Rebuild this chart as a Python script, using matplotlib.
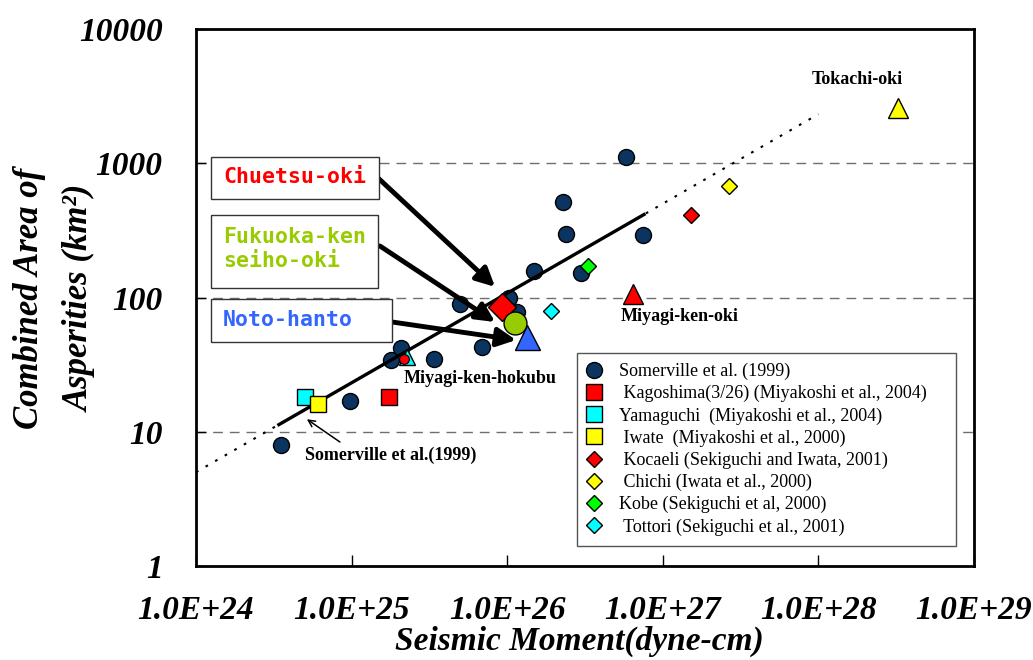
import matplotlib
matplotlib.use("Agg")
import matplotlib.pyplot as plt
from matplotlib.patches import Rectangle

plt.rcParams['font.family'] = ['Liberation Serif', 'DejaVu Serif']

# ---------- data (seismic moment dyne-cm, combined asperity area km2) ----------
somer_m0 = [3.5e24, 9.8e24, 1.8e25, 2.07e25, 3.4e25, 5.0e25, 6.9e25, 1.03e26,
            1.16e26, 1.49e26, 2.29e26, 2.39e26, 2.98e26, 5.8e26, 7.5e26]
somer_area = [8, 17, 34, 42, 35, 90, 43, 99, 78, 157, 514, 297, 152, 1110, 292]

kagoshima = ([1.74e25], [18])
yamaguchi = ([5.0e24], [18])
iwate = ([6.1e24], [16])
kocaeli = ([1.52e27], [410])
chichi = ([2.66e27], [680])
kobe = ([3.3e26], [172])
tottori = ([1.91e26], [79])

miyagi_hokubu = ([2.27e25], [36])
miyagi_hokubu_dot = ([2.17e25], [35])
miyagi_oki = ([6.4e26], [106])
tokachi_oki = ([3.25e28], [2600])

chuetsu = ([9.3e25], [85])
fukuoka = ([1.12e26], [65])
noto = ([1.34e26], [51])

# Somerville et al. (1999) scaling line, end points
fit_solid_m0 = [3.41e24, 7.57e26]
fit_solid_area = [11.3, 415]
fit_dot_m0 = [1.0e24, 1.0e28]
fit_dot_area = [5.0, 2320]

x_ticks = [1e24, 1e25, 1e26, 1e27, 1e28, 1e29]
x_ticklabels = ['1.0E+24', '1.0E+25', '1.0E+26', '1.0E+27', '1.0E+28', '1.0E+29']
y_ticks = [1, 10, 100, 1000, 10000]
y_ticklabels = ['1', '10', '100', '1000', '10000']

legend_labels = ['Somerville et al. (1999)',
                 ' Kagoshima(3/26) (Miyakoshi et al., 2004)',
                 'Yamaguchi  (Miyakoshi et al., 2004)',
                 ' Iwate  (Miyakoshi et al., 2000)',
                 ' Kocaeli (Sekiguchi and Iwata, 2001)',
                 ' Chichi (Iwata et al., 2000)',
                 'Kobe (Sekiguchi et al, 2000)',
                 ' Tottori (Sekiguchi et al., 2001)']

navy = '#0b3560'

fig = plt.figure(figsize=(10.33, 6.6), dpi=100)
ax = fig.add_axes([196 / 1033, 1 - 566 / 660, 778 / 1033, 537 / 660])
ax.set_xscale('log')
ax.set_yscale('log')
ax.set_xlim(1e24, 1e29)
ax.set_ylim(1, 10000)

# grid lines at 10, 100, 1000
for yv in y_ticks[1:-1]:
    ax.axhline(yv, color='#6f6f6f', lw=1, ls=(0, (7, 5)), zorder=0)

# fitted relation
ax.plot(fit_dot_m0, fit_dot_area, color='k', lw=1.5, ls=(0, (1.3, 4)), zorder=1)
ax.plot(fit_solid_m0, fit_solid_area, color='k', lw=2.4, zorder=3)

# data points
ax.plot(somer_m0, somer_area, 'o', ms=11.5, mfc=navy, mec='k', mew=1,
        label=legend_labels[0], zorder=2)
ax.plot(*kagoshima, 's', ms=11, mfc='#ff0000', mec='k', mew=1, label=legend_labels[1], zorder=4)
ax.plot(*yamaguchi, 's', ms=11, mfc='#00ffff', mec='k', mew=1, label=legend_labels[2], zorder=4)
ax.plot(*iwate, 's', ms=11, mfc='#ffff00', mec='k', mew=1, label=legend_labels[3], zorder=4)
ax.plot(*kocaeli, 'D', ms=7.8, mfc='#ff0000', mec='k', mew=1, label=legend_labels[4], zorder=4)
ax.plot(*chichi, 'D', ms=7.8, mfc='#ffff00', mec='k', mew=1, label=legend_labels[5], zorder=4)
ax.plot(*kobe, 'D', ms=7.8, mfc='#00ff00', mec='k', mew=1, label=legend_labels[6], zorder=4)
ax.plot(*tottori, 'D', ms=7.8, mfc='#00ffff', mec='k', mew=1, label=legend_labels[7], zorder=4)

ax.plot(*miyagi_hokubu, '^', ms=12, mfc='#00ffff', mec='k', mew=1, zorder=4)
ax.plot(*miyagi_hokubu_dot, 'o', ms=7, mfc='#ff0000', mec='k', mew=0.8, zorder=5)
ax.plot(*miyagi_oki, '^', ms=14, mfc='#ff0000', mec='k', mew=1, zorder=4)
ax.plot(*tokachi_oki, '^', ms=14, mfc='#ffff00', mec='k', mew=1, zorder=4)

ax.plot(*noto, '^', ms=18, mfc='#3366ff', mec='k', mew=1, zorder=6)
ax.plot(*fukuoka, 'o', ms=16.5, mfc='#99cc00', mec='k', mew=1, zorder=7)
ax.plot(*chuetsu, 'D', ms=14.5, mfc='#ff0000', mec='k', mew=1, zorder=6)

# event labels
lab_kw = dict(fontsize=13, fontweight='bold', ha='center', va='center', zorder=8)
ax.text(1.77e28, 4170, 'Tokachi-oki', **lab_kw)
ax.text(1.29e27, 72.8, 'Miyagi-ken-oki', **lab_kw)
ax.text(6.68e25, 25.1, 'Miyagi-ken-hokubu', **lab_kw)
ax.text(1.79e25, 6.71, 'Somerville et al.(1999)', **lab_kw)
ax.annotate('', xy=(5.16e24, 12.4), xytext=(8.41e24, 8.39),
            arrowprops=dict(arrowstyle='->', lw=1.1, color='k', mutation_scale=12,
                            shrinkA=0, shrinkB=0), zorder=8)

# boxed names with thick arrows
box_font = dict(family='DejaVu Sans Mono', fontweight='bold', fontsize=15.5,
                ha='left', va='center', transform=ax.transAxes, zorder=10)
boxes = [((0.0193, 0.6834), 0.2159, 0.0782),
         ((0.0193, 0.5177), 0.2147, 0.1359),
         ((0.0193, 0.4171), 0.2326, 0.0801)]
for (x0, y0), w, h in boxes:
    ax.add_patch(Rectangle((x0, y0), w, h, transform=ax.transAxes, fc='white',
                           ec='#333333', lw=1, zorder=9))
ax.text(0.0347, 0.7244, 'Chuetsu-oki', color='#ff0000', **box_font)
ax.text(0.0347, 0.5903, 'Fukuoka-ken\nseiho-oki', color='#99cc00',
        linespacing=1.25, **box_font)
ax.text(0.0347, 0.4581, 'Noto-hanto', color='#3366ff', **box_font)

arrow_kw = dict(arrowstyle='-|>', lw=3.5, color='k', mutation_scale=28,
                shrinkA=0, shrinkB=0)
ax.annotate('', xy=(8.36e25, 120), xytext=(1.48e25, 776), arrowprops=arrow_kw, zorder=8)
ax.annotate('', xy=(8.36e25, 65.7), xytext=(1.52e25, 242), arrowprops=arrow_kw, zorder=8)
ax.annotate('', xy=(1.14e26, 48.2), xytext=(1.82e25, 65.7), arrowprops=arrow_kw, zorder=8)

# axes styling
ax.set_xticks(x_ticks)
ax.set_xticklabels(x_ticklabels)
ax.set_yticks(y_ticks)
ax.set_yticklabels(y_ticklabels)
ax.minorticks_off()
ax.tick_params(axis='x', direction='in', length=8, width=1, pad=21, labelsize=24)
ax.tick_params(axis='y', direction='in', length=7, width=1, pad=24, labelsize=24)
for lab in ax.get_xticklabels() + ax.get_yticklabels():
    lab.set_fontweight('bold')
    lab.set_fontstyle('italic')
for sp in ax.spines.values():
    sp.set_linewidth(2)

leg = ax.legend(loc='upper left', bbox_to_anchor=(0.4897, 0.0354, 0.4872, 0.3612),
                mode='expand', fontsize=13, frameon=True, fancybox=False,
                edgecolor='#555555', framealpha=1, borderpad=0.55, labelspacing=0.27,
                handlelength=0.8, handletextpad=1.0, borderaxespad=0, numpoints=1)
leg.get_frame().set_linewidth(1)
leg.set_zorder(12)

fig.text(579 / 1033, 1 - 650 / 660, 'Seismic Moment(dyne-cm)', fontsize=24,
         fontweight='bold', fontstyle='italic', ha='center', va='baseline')
fig.text(55 / 1033, 1 - 298 / 660, 'Combined Area of\nAsperities (km²)', fontsize=25,
         fontweight='bold', fontstyle='italic', ha='center', va='center',
         rotation=90, linespacing=1.7, multialignment='center')

fig.savefig('out.png', dpi=100)
